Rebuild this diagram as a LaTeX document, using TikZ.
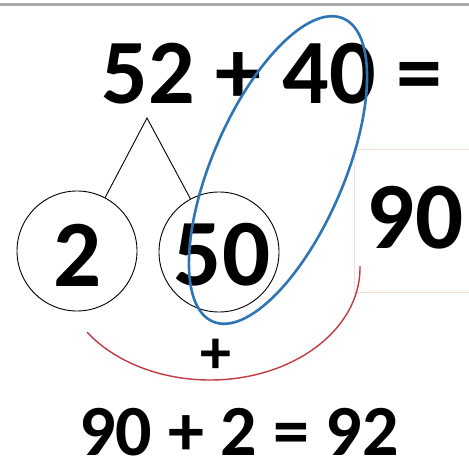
\documentclass[tikz,border=0pt]{standalone}
\usepackage{fontspec}
\setmainfont{Carlito}
\usetikzlibrary{calc}
\definecolor{ovalblue}{RGB}{46,117,182}
\definecolor{arcred}{RGB}{192,57,67}
\definecolor{boxpeach}{RGB}{246,222,208}
\definecolor{topgray}{RGB}{170,170,170}
\tikzset{
  big/.style={font=\fontsize{92}{92}\selectfont\bfseries, inner sep=0pt},
  part/.style={circle, draw=black, line width=0.9pt, minimum size=120pt, inner sep=0pt},
  digits/.style={font=\fontsize{95}{95}\selectfont\bfseries, inner sep=0pt},
}
\begin{document}
\begin{tikzpicture}[x=1pt,y=1pt]
\useasboundingbox (0,0) rectangle (469,458);
\begin{scope}
\clip (0,0) rectangle (469,458);
% top gray rule
\coordinate (gl) at (0,453.5);
\coordinate (gr) at (469,453.5);
\draw[topgray, line width=3pt] (gl) -- (gr);
% equation
\node[big, anchor=base] (eq) at (272,354) {52 + 40 =};
% answer box
\node[draw=boxpeach, line width=1pt, minimum width=126pt, minimum height=143pt, inner sep=0pt] (box) at (417,236.5) {};
\node[digits] (ninety) at (415,240) {90};
% parts
\coordinate (apex) at (147,340);
\node[part] (c2) at (77,207) {};
\node[part] (c50) at (219,206) {};
\node[digits] (t2) at (78,203) {2};
\node[digits] (t50) at (222,203) {50};
\draw[line width=0.9pt] (c2) -- (apex) -- (c50);
% blue oval
\coordinate (oc) at (278,288);
\draw[ovalblue, line width=2.6pt, rotate around={66.7:(oc)}] (oc) ellipse [x radius=165, y radius=66];
% red arc
\coordinate (rc) at (210,190);
\draw[arcred, line width=1.4pt] ($(rc)+(215:150 and 112)$) arc [start angle=215, end angle=361, x radius=150, y radius=112];
\node[font=\fontsize{62}{62}\selectfont\bfseries, inner sep=0pt] (plus) at (216,102) {+};
% result
\node[font=\fontsize{72}{72}\selectfont\bfseries, inner sep=0pt, anchor=base] (res) at (239,2) {90 + 2 = 92};
\end{scope}
\end{tikzpicture}
\end{document}
